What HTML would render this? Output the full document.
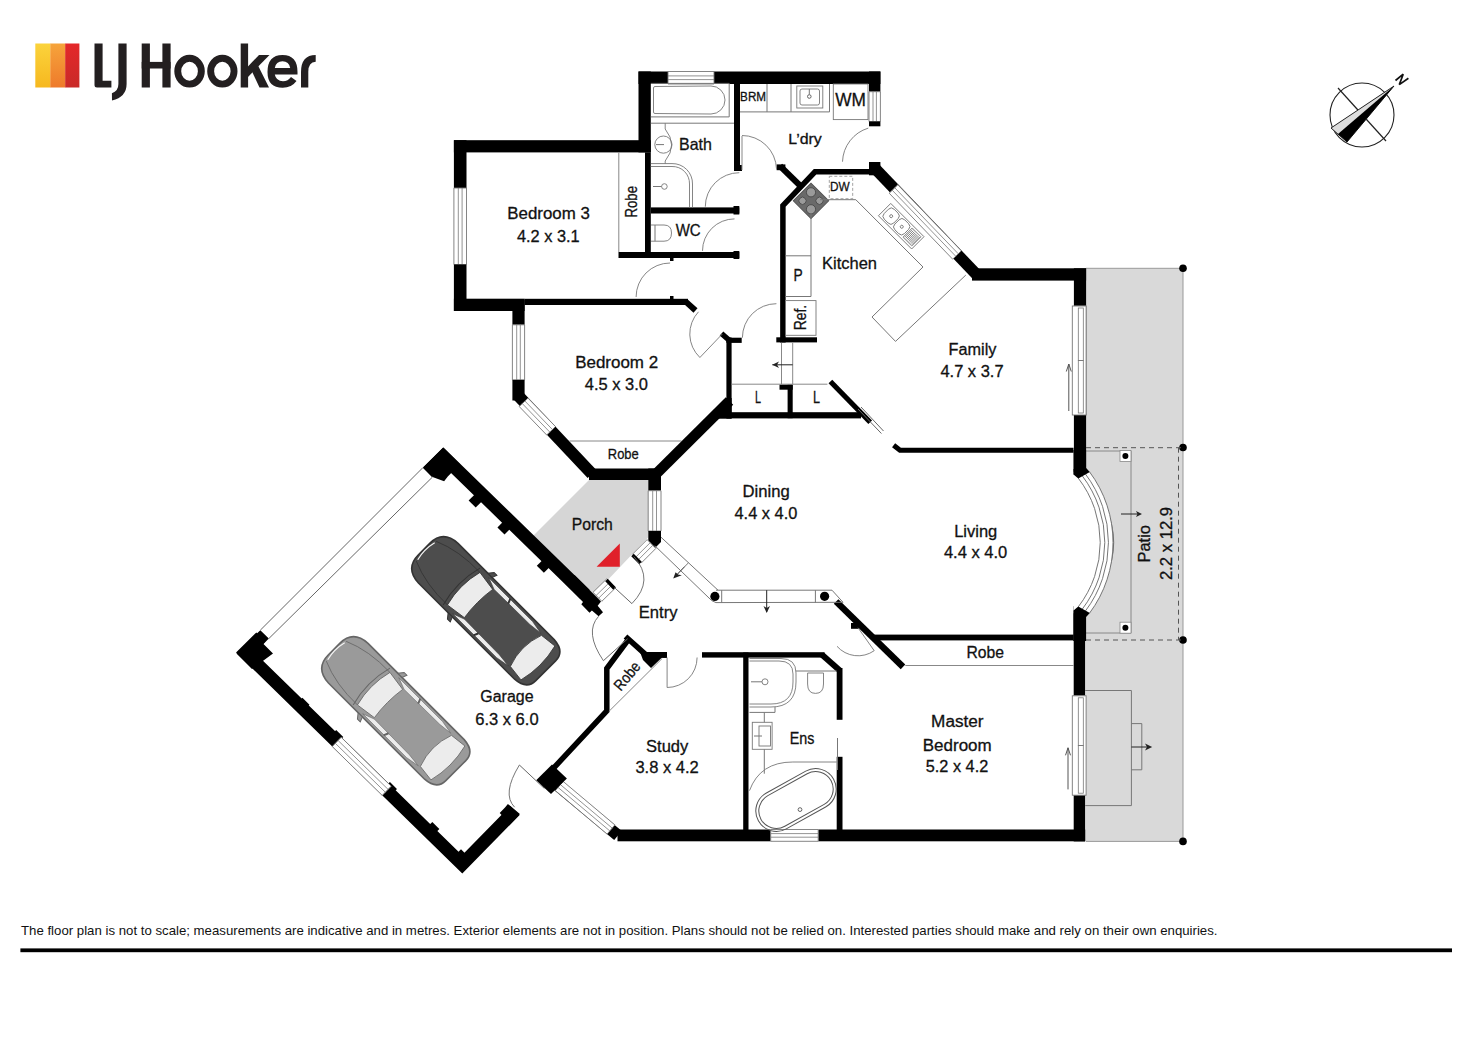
<!DOCTYPE html>
<html><head><meta charset="utf-8"><style>
html,body{margin:0;padding:0;background:#fff;}
body{width:1472px;height:1041px;overflow:hidden;position:relative;}
svg{position:absolute;left:0;top:0;}
text{font-family:"Liberation Sans",sans-serif;}
</style></head><body>
<svg width="1472" height="1041" viewBox="0 0 1472 1041">
<rect x="1086.0" y="268.3" width="97.0" height="573.1" fill="#d9d9d9"/>
<polyline points="1086.0,268.3 1183.0,268.3 1183.0,841.4 1086.0,841.4" fill="none" stroke="#999" stroke-width="1" stroke-linecap="butt" stroke-linejoin="miter" />
<polygon points="589.0,480.0 648.3,480.0 648.3,537.2 608.2,579.5 598.0,602.0 532.0,537.0" fill="#d6d6d6" />
<defs><linearGradient id="gy" x1="0" y1="0" x2="0" y2="1"><stop offset="0" stop-color="#fbd33c"/><stop offset="1" stop-color="#f6b81f"/></linearGradient><linearGradient id="go" x1="0" y1="0" x2="0" y2="1"><stop offset="0" stop-color="#f6a43b"/><stop offset="1" stop-color="#ee7a2b"/></linearGradient><linearGradient id="gr" x1="0" y1="0" x2="0" y2="1"><stop offset="0" stop-color="#e4282a"/><stop offset="1" stop-color="#c92a28"/></linearGradient></defs>
<rect x="35.3" y="43.5" width="15.2" height="44" fill="url(#gy)"/>
<rect x="50.3" y="43.5" width="15.1" height="44" fill="url(#go)"/>
<rect x="65.2" y="43.5" width="14.2" height="44" fill="url(#gr)"/>
<path d="M94.5,43.5 L102.6,43.5 L102.6,80.8 L111.4,80.8 L111.4,87.5 L97,87.5 Q94.5,87.5 94.5,85 Z" fill="#231f20"/>
<path d="M118.4,43.5 L126.6,43.5 L126.6,84 Q126.6,97 112,100.5 L111.9,93.2 Q118.4,91 118.4,84 Z" fill="#231f20"/>
<rect x="141.7" y="43.5" width="8.2" height="44" fill="#231f20"/>
<rect x="162.4" y="43.5" width="8.2" height="44" fill="#231f20"/>
<rect x="141.7" y="61.9" width="28.9" height="6.6" fill="#231f20"/>
<ellipse cx="189.55" cy="71.2" rx="11.8" ry="12.9" fill="none" stroke="#231f20" stroke-width="6.9"/>
<ellipse cx="222.35" cy="71.2" rx="11.7" ry="12.9" fill="none" stroke="#231f20" stroke-width="6.9"/>
<rect x="240.7" y="43.5" width="7.4" height="44" fill="#231f20"/>
<polygon points="247,67.5 259,54.9 269.5,54.9 247,78" fill="#231f20"/>
<polygon points="252,71.5 258,65.5 269,87.5 259.5,87.5" fill="#231f20"/>
<path d="M267.5,72 Q267.5,54.9 282.5,54.9 Q297.5,54.9 297.5,72 L297.5,74.5 L274.8,74.5 Q276,81 283,81.2 Q288,81.2 291,77 L296.5,81 Q291.5,87.8 282.7,87.8 Q267.5,87.8 267.5,72 Z M274.8,68 L290.2,68 Q289,61.3 282.5,61.3 Q276,61.3 274.8,68 Z" fill="#231f20" fill-rule="evenodd"/>
<path d="M301,87.5 L301,72 Q301,55 315.7,54.9 L315.7,61.8 Q308.3,62 308.3,72 L308.3,87.5 Z" fill="#231f20"/>
<circle cx="1362" cy="115" r="32" fill="none" stroke="#222" stroke-width="1.1"/>
<polyline points="1338.0,88.0 1386.0,141.0" fill="none" stroke="#222" stroke-width="1.2" stroke-linecap="butt" stroke-linejoin="miter" />
<polygon points="1394.0,86.0 1347.0,142.0 1331.0,128.0" fill="#ddd" stroke="#222" stroke-width="1"/>
<polygon points="1394.0,86.0 1347.0,142.0 1338.0,134.0" fill="#000" />
<polyline points="1395.5,80.5 1403.2,74.2 1399.3,84.6 1408.4,78.3" fill="none" stroke="#111" stroke-width="1.7" stroke-linecap="butt" stroke-linejoin="bevel" />
<text x="21" y="935.3" font-size="13.2" textLength="1196.5" lengthAdjust="spacingAndGlyphs" fill="#111">The floor plan is not to scale; measurements are indicative and in metres. Exterior elements are not in position. Plans should not be relied on. Interested parties should make and rely on their own enquiries.</text>
<rect x="20.4" y="948.4" width="1431.6" height="3.8" fill="#000"/>
<rect x="638.5" y="71.5" width="29.5" height="12.5" fill="#000"/>
<rect x="714.0" y="71.5" width="166.4" height="12.5" fill="#000"/>
<polygon points="668.0,84.0 714.0,84.0 714.0,71.5 668.0,71.5" fill="#fff" stroke="#777" stroke-width="0.9"/>
<polyline points="668.0,75.9 714.0,75.9" fill="none" stroke="#777" stroke-width="0.8" stroke-linecap="butt" stroke-linejoin="miter" />
<polyline points="668.0,79.6 714.0,79.6" fill="none" stroke="#777" stroke-width="0.8" stroke-linecap="butt" stroke-linejoin="miter" />
<rect x="869.0" y="71.5" width="11.4" height="20.2" fill="#000"/>
<polygon points="869.0,91.7 869.0,121.5 880.4,121.5 880.4,91.7" fill="#fff" stroke="#777" stroke-width="0.9"/>
<polyline points="876.4,91.7 876.4,121.5" fill="none" stroke="#777" stroke-width="0.8" stroke-linecap="butt" stroke-linejoin="miter" />
<polyline points="873.0,91.7 873.0,121.5" fill="none" stroke="#777" stroke-width="0.8" stroke-linecap="butt" stroke-linejoin="miter" />
<rect x="869.0" y="121.5" width="11.4" height="4.8" fill="#000"/>
<rect x="638.5" y="71.5" width="12.3" height="80.9" fill="#000"/>
<rect x="645.0" y="152.4" width="5.8" height="105.6" fill="#000"/>
<rect x="734.0" y="84.0" width="6.0" height="87.0" fill="#000"/>
<rect x="738.0" y="165.0" width="4.0" height="6.0" fill="#000"/>
<rect x="453.9" y="140.2" width="196.9" height="12.2" fill="#000"/>
<rect x="453.9" y="140.2" width="12.6" height="47.8" fill="#000"/>
<polygon points="453.9,188.0 453.9,264.5 466.5,264.5 466.5,188.0" fill="#fff" stroke="#777" stroke-width="0.9"/>
<polyline points="462.1,188.0 462.1,264.5" fill="none" stroke="#777" stroke-width="0.8" stroke-linecap="butt" stroke-linejoin="miter" />
<polyline points="458.3,188.0 458.3,264.5" fill="none" stroke="#777" stroke-width="0.8" stroke-linecap="butt" stroke-linejoin="miter" />
<rect x="453.9" y="264.5" width="12.6" height="46.5" fill="#000"/>
<rect x="453.9" y="298.7" width="70.7" height="12.3" fill="#000"/>
<rect x="524.6" y="298.8" width="163.4" height="6.2" fill="#000"/>
<polyline points="686.0,301.9 695.5,310.5" fill="none" stroke="#000" stroke-width="6" stroke-linecap="butt" stroke-linejoin="miter" />
<rect x="618.5" y="252.0" width="120.8" height="6.0" fill="#000"/>
<rect x="650.8" y="207.4" width="88.5" height="6.1" fill="#000"/>
<rect x="733.5" y="206.0" width="5.8" height="8.5" fill="#000"/>
<rect x="733.5" y="251.0" width="5.8" height="8.0" fill="#000"/>
<polyline points="618.8,152.4 618.8,252.0" fill="none" stroke="#888" stroke-width="1.0" stroke-linecap="butt" stroke-linejoin="miter" />
<rect x="670.0" y="257.0" width="3.5" height="4.0" fill="#000"/>
<rect x="670.0" y="296.0" width="3.5" height="3.0" fill="#000"/>
<rect x="776.6" y="164.4" width="8.8" height="5.8" fill="#000"/>
<polyline points="780.0,166.0 801.0,186.5" fill="none" stroke="#000" stroke-width="6" stroke-linecap="butt" stroke-linejoin="miter" />
<polyline points="782.9,342.4 782.9,205.5 815.0,171.8 870.0,171.8" fill="none" stroke="#000" stroke-width="5.5" stroke-linecap="butt" stroke-linejoin="miter" />
<rect x="776.3" y="337.3" width="40.7" height="5.1" fill="#000"/>
<rect x="869.0" y="162.0" width="11.4" height="13.3" fill="#000"/>
<polyline points="874.6,168.0 977.0,275.0" fill="none" stroke="#000" stroke-width="11.5" stroke-linecap="butt" stroke-linejoin="miter" />
<polygon points="889.2,193.2 952.7,259.2 961.3,250.8 897.8,184.8" fill="#fff" stroke="#777" stroke-width="0.9"/>
<polyline points="894.8,187.8 958.3,253.8" fill="none" stroke="#777" stroke-width="0.8" stroke-linecap="butt" stroke-linejoin="miter" />
<polyline points="892.2,190.2 955.7,256.2" fill="none" stroke="#777" stroke-width="0.8" stroke-linecap="butt" stroke-linejoin="miter" />
<rect x="972.0" y="268.3" width="114.1" height="12.3" fill="#000"/>
<rect x="1073.9" y="268.3" width="12.2" height="37.7" fill="#000"/>
<polygon points="1073.9,306.0 1073.9,415.0 1086.1,415.0 1086.1,306.0" fill="#fff" stroke="#777" stroke-width="0.9"/>
<polyline points="1081.8,306.0 1081.8,415.0" fill="none" stroke="#777" stroke-width="0.8" stroke-linecap="butt" stroke-linejoin="miter" />
<polyline points="1078.2,306.0 1078.2,415.0" fill="none" stroke="#777" stroke-width="0.8" stroke-linecap="butt" stroke-linejoin="miter" />
<rect x="1073.9" y="415.0" width="12.2" height="55.0" fill="#000"/>
<polygon points="1073.5,469.0 1085.7,469.0 1085.7,472.0 1079.0,474.5 1073.5,474.5" fill="#000" />
<rect x="512.4" y="299.4" width="12.2" height="25.4" fill="#000"/>
<polygon points="512.4,324.8 512.4,379.9 524.6,379.9 524.6,324.8" fill="#fff" stroke="#777" stroke-width="0.9"/>
<polyline points="520.3,324.8 520.3,379.9" fill="none" stroke="#777" stroke-width="0.8" stroke-linecap="butt" stroke-linejoin="miter" />
<polyline points="516.7,324.8 516.7,379.9" fill="none" stroke="#777" stroke-width="0.8" stroke-linecap="butt" stroke-linejoin="miter" />
<rect x="512.4" y="379.9" width="12.2" height="20.6" fill="#000"/>
<polyline points="518.5,396.0 592.0,474.0" fill="none" stroke="#000" stroke-width="12" stroke-linecap="butt" stroke-linejoin="miter" />
<polygon points="519.2,406.5 546.7,435.0 555.5,426.6 528.0,398.1" fill="#fff" stroke="#777" stroke-width="0.9"/>
<polyline points="524.9,401.0 552.4,429.5" fill="none" stroke="#777" stroke-width="0.8" stroke-linecap="butt" stroke-linejoin="miter" />
<polyline points="522.3,403.6 549.8,432.1" fill="none" stroke="#777" stroke-width="0.8" stroke-linecap="butt" stroke-linejoin="miter" />
<rect x="589.0" y="468.5" width="72.0" height="11.5" fill="#000"/>
<polyline points="569.5,441.0 681.6,441.0" fill="none" stroke="#888" stroke-width="1.0" stroke-linecap="butt" stroke-linejoin="miter" />
<polyline points="655.0,475.0 729.5,401.0" fill="none" stroke="#000" stroke-width="10.5" stroke-linecap="butt" stroke-linejoin="miter" />
<rect x="726.4" y="337.5" width="5.2" height="81.1" fill="#000"/>
<rect x="726.4" y="337.7" width="15.3" height="5.2" fill="#000"/>
<polyline points="721.5,333.5 730.0,341.0" fill="none" stroke="#000" stroke-width="5.5" stroke-linecap="butt" stroke-linejoin="miter" />
<rect x="712.0" y="412.2" width="149.0" height="6.2" fill="#000"/>
<rect x="787.6" y="384.6" width="5.1" height="33.6" fill="#000"/>
<rect x="779.5" y="384.6" width="13.2" height="5.1" fill="#000"/>
<polyline points="731.6,384.2 827.4,384.2" fill="none" stroke="#888" stroke-width="1.0" stroke-linecap="butt" stroke-linejoin="miter" />
<polyline points="781.5,342.8 781.5,384.6" fill="none" stroke="#888" stroke-width="1.0" stroke-linecap="butt" stroke-linejoin="miter" />
<polyline points="792.7,342.8 792.7,384.6" fill="none" stroke="#888" stroke-width="1.0" stroke-linecap="butt" stroke-linejoin="miter" />
<polyline points="772.3,364.8 792.7,364.8" fill="none" stroke="#222" stroke-width="1.0" stroke-linecap="butt" stroke-linejoin="miter" />
<polygon points="772.3,364.8 779.0,361.5 777.0,364.8 779.0,368.0" fill="#222" />
<polyline points="830.4,381.5 870.2,422.3" fill="none" stroke="#000" stroke-width="5.2" stroke-linecap="butt" stroke-linejoin="miter" />
<polyline points="858.0,409.0 881.4,433.5" fill="none" stroke="#666" stroke-width="1.0" stroke-linecap="butt" stroke-linejoin="miter" />
<polyline points="861.0,407.0 883.5,431.0" fill="none" stroke="#666" stroke-width="1.0" stroke-linecap="butt" stroke-linejoin="miter" />
<polyline points="893.6,445.2 900.0,450.3 1073.5,450.3" fill="none" stroke="#000" stroke-width="5" stroke-linecap="butt" stroke-linejoin="miter" />
<polygon points="1073.5,606.0 1079.0,609.0 1085.7,612.0 1085.7,641.0 1073.5,641.0" fill="#000" />
<rect x="1073.7" y="640.0" width="11.5" height="55.8" fill="#000"/>
<polygon points="1073.8,695.8 1073.8,795.2 1085.2,795.2 1085.2,695.8" fill="#fff" stroke="#777" stroke-width="0.9"/>
<polyline points="1081.2,695.8 1081.2,795.2" fill="none" stroke="#777" stroke-width="0.8" stroke-linecap="butt" stroke-linejoin="miter" />
<polyline points="1077.8,695.8 1077.8,795.2" fill="none" stroke="#777" stroke-width="0.8" stroke-linecap="butt" stroke-linejoin="miter" />
<rect x="1073.7" y="795.2" width="11.5" height="46.2" fill="#000"/>
<path d="M1079,474 Q1140,542 1079,611" fill="none" stroke="#fff" stroke-width="0"/>
<path d="M1079.0,474.0 Q1140.0,542.5 1079.0,611.0" fill="none" stroke="#666" stroke-width="0.9"/>
<path d="M1080.2,473.4 Q1143.0,542.5 1080.2,611.6" fill="none" stroke="#666" stroke-width="0.9"/>
<path d="M1081.4,472.8 Q1146.0,542.5 1081.4,612.2" fill="none" stroke="#666" stroke-width="0.9"/>
<rect x="873.9" y="634.6" width="199.8" height="5.8" fill="#000"/>
<polyline points="836.1,601.5 903.0,666.9" fill="none" stroke="#000" stroke-width="6.5" stroke-linecap="butt" stroke-linejoin="miter" />
<polyline points="905.3,665.5 1073.7,665.5" fill="none" stroke="#888" stroke-width="1.0" stroke-linecap="butt" stroke-linejoin="miter" />
<rect x="617.5" y="829.5" width="153.2" height="11.8" fill="#000"/>
<rect x="818.2" y="829.5" width="267.0" height="11.8" fill="#000"/>
<polygon points="770.7,841.3 818.2,841.3 818.2,829.5 770.7,829.5" fill="#fff" stroke="#777" stroke-width="0.9"/>
<polyline points="770.7,833.6 818.2,833.6" fill="none" stroke="#777" stroke-width="0.8" stroke-linecap="butt" stroke-linejoin="miter" />
<polyline points="770.7,837.2 818.2,837.2" fill="none" stroke="#777" stroke-width="0.8" stroke-linecap="butt" stroke-linejoin="miter" />
<rect x="836.7" y="668.0" width="5.8" height="51.8" fill="#000"/>
<rect x="836.7" y="756.8" width="5.8" height="73.2" fill="#000"/>
<rect x="743.2" y="652.5" width="5.3" height="177.5" fill="#000"/>
<rect x="645.0" y="652.2" width="22.0" height="5.4" fill="#000"/>
<rect x="702.0" y="652.2" width="122.5" height="5.4" fill="#000"/>
<polyline points="822.0,654.8 839.8,670.5" fill="none" stroke="#000" stroke-width="6" stroke-linecap="butt" stroke-linejoin="miter" />
<polyline points="837.5,738.0 837.5,770.0" fill="none" stroke="#777" stroke-width="1.0" stroke-linecap="butt" stroke-linejoin="miter" />
<rect x="851.0" y="623.0" width="8.0" height="5.8" fill="#000"/>
<polyline points="629.5,638.0 606.8,668.5 606.8,711.0 549.0,773.0" fill="none" stroke="#000" stroke-width="5.5" stroke-linecap="butt" stroke-linejoin="miter" />
<polyline points="625.5,636.5 646.0,654.9 667.0,654.9" fill="none" stroke="#000" stroke-width="5.5" stroke-linecap="butt" stroke-linejoin="miter" />
<polygon points="640.0,652.0 667.0,652.0 667.0,657.6 662.0,657.6 651.0,668.0 643.0,660.0" fill="#000" />
<polyline points="608.8,711.5 662.2,658.4" fill="none" stroke="#888" stroke-width="1.0" stroke-linecap="butt" stroke-linejoin="miter" />
<polyline points="547.0,776.5 618.0,835.5" fill="none" stroke="#000" stroke-width="12" stroke-linecap="butt" stroke-linejoin="miter" />
<polygon points="555.3,790.6 607.1,834.1 614.9,824.9 563.1,781.4" fill="#fff" stroke="#777" stroke-width="0.9"/>
<polyline points="560.4,784.6 612.2,828.1" fill="none" stroke="#777" stroke-width="0.8" stroke-linecap="butt" stroke-linejoin="miter" />
<polyline points="558.0,787.4 609.8,830.9" fill="none" stroke="#777" stroke-width="0.8" stroke-linecap="butt" stroke-linejoin="miter" />
<polygon points="536.2,780.3 552.0,764.5 566.9,778.4 551.0,794.0" fill="#000" />
<polyline points="427.4,472.4 443.5,456.5 585.0,594.5" fill="none" stroke="#000" stroke-width="13" stroke-linecap="butt" stroke-linejoin="miter" />
<polyline points="260.9,637.0 245.3,652.5 462.2,864.3 515.0,810.5" fill="none" stroke="#000" stroke-width="13" stroke-linecap="butt" stroke-linejoin="miter" />
<polygon points="423.0,467.5 443.1,447.4 460.0,464.3 451.0,473.3 448.0,476.3 444.1,481.2 432.5,477.0" fill="#000" />
<polygon points="260.3,630.2 236.5,653.5 252.0,669.0 273.0,653.4 263.5,643.9 268.8,638.6" fill="#000" />
<polyline points="423.0,467.5 260.3,630.2" fill="none" stroke="#666" stroke-width="1.0" stroke-linecap="butt" stroke-linejoin="miter" />
<polyline points="432.5,477.0 268.8,638.6" fill="none" stroke="#666" stroke-width="1.0" stroke-linecap="butt" stroke-linejoin="miter" />
<rect x="470.7" y="495.5" width="10" height="10" fill="#000" transform="rotate(45 475.7 500.5)"/>
<rect x="499.5" y="522.4" width="10" height="10" fill="#000" transform="rotate(45 504.5 527.4)"/>
<rect x="538.9" y="560.8" width="10" height="10" fill="#000" transform="rotate(45 543.9 565.8)"/>
<rect x="297.4" y="699.7" width="10" height="10" fill="#000" transform="rotate(45 302.4 704.7)"/>
<rect x="331.2" y="732.0" width="10" height="10" fill="#000" transform="rotate(45 336.2 737.0)"/>
<rect x="384.9" y="784.0" width="10" height="10" fill="#000" transform="rotate(45 389.9 789.0)"/>
<rect x="427.3" y="824.0" width="10" height="10" fill="#000" transform="rotate(45 432.3 829.0)"/>
<rect x="456.0" y="851.3" width="10" height="10" fill="#000" transform="rotate(45 461.0 856.3)"/>
<polygon points="332.2,746.5 382.2,795.4 391.2,786.2 341.2,737.3" fill="#fff" stroke="#777" stroke-width="0.9"/>
<polyline points="338.1,740.5 388.1,789.4" fill="none" stroke="#777" stroke-width="0.8" stroke-linecap="butt" stroke-linejoin="miter" />
<polyline points="335.3,743.3 385.3,792.2" fill="none" stroke="#777" stroke-width="0.8" stroke-linecap="butt" stroke-linejoin="miter" />
<polygon points="574.6,575.0 601.0,601.4 597.7,605.7 603.0,612.2 598.6,616.3 591.9,610.5 589.5,612.7 581.3,604.3 583.0,602.0 565.0,583.6" fill="#000" />
<polygon points="499.7,813.0 505.0,807.5 507.9,803.9 519.9,814.0 510.0,824.0" fill="#000" />
<g transform="translate(484.9,609.9) rotate(45)"><path d="M-66,-28 L70,-28 Q86,-27 86,-14 L86,14 Q86,27 70,28 L-66,28 Q-86,27 -86,8 L-86,-8 Q-86,-27 -66,-28 Z" fill="#4d4d4d" stroke="#333" stroke-width="1.6"/><path d="M-24,-28 L-20,-33 L-16,-33 L-18,-28 Z" fill="#4d4d4d" stroke="#333" stroke-width="1"/><path d="M-24,28 L-20,33 L-16,33 L-18,28 Z" fill="#4d4d4d" stroke="#333" stroke-width="1"/><path d="M-30,-23 Q-36,0 -30,23 L-9,20 Q-12,0 -9,-20 Z" fill="#ececec" stroke="#333" stroke-width="0.8"/><path d="M58,-22 Q50,0 58,22 L75,24 Q81,0 75,-24 Z" fill="#ececec" stroke="#333" stroke-width="0.8"/><path d="M-20,-25.5 L-8,-21 L42,-21.5 L56,-23 L42,-25.5 Z" fill="#ececec" stroke="#333" stroke-width="0.6"/><path d="M-20,25.5 L-8,21 L42,21.5 L56,23 L42,25.5 Z" fill="#ececec" stroke="#333" stroke-width="0.6"/><path d="M10,-26 L12,-21 M10,26 L12,21" stroke="#333" stroke-width="2"/><path d="M-83,-12 Q-86,0 -83,12" fill="none" stroke="#f4f4f4" stroke-width="1.2"/><path d="M-83,-14 Q-60,-24 -30,-23 M-83,14 Q-60,24 -30,23" fill="none" stroke="#333" stroke-width="0.8"/><path d="M-33,-26 Q-40,0 -33,26" fill="none" stroke="#333" stroke-width="1"/></g>
<g transform="translate(394.9,709.9) rotate(45)"><path d="M-66,-28 L70,-28 Q86,-27 86,-14 L86,14 Q86,27 70,28 L-66,28 Q-86,27 -86,8 L-86,-8 Q-86,-27 -66,-28 Z" fill="#9a9a9a" stroke="#666" stroke-width="1.6"/><path d="M-24,-28 L-20,-33 L-16,-33 L-18,-28 Z" fill="#9a9a9a" stroke="#666" stroke-width="1"/><path d="M-24,28 L-20,33 L-16,33 L-18,28 Z" fill="#9a9a9a" stroke="#666" stroke-width="1"/><path d="M-30,-23 Q-36,0 -30,23 L-9,20 Q-12,0 -9,-20 Z" fill="#ececec" stroke="#666" stroke-width="0.8"/><path d="M58,-22 Q50,0 58,22 L75,24 Q81,0 75,-24 Z" fill="#ececec" stroke="#666" stroke-width="0.8"/><path d="M-20,-25.5 L-8,-21 L42,-21.5 L56,-23 L42,-25.5 Z" fill="#ececec" stroke="#666" stroke-width="0.6"/><path d="M-20,25.5 L-8,21 L42,21.5 L56,23 L42,25.5 Z" fill="#ececec" stroke="#666" stroke-width="0.6"/><path d="M10,-26 L12,-21 M10,26 L12,21" stroke="#666" stroke-width="2"/><path d="M-83,-12 Q-86,0 -83,12" fill="none" stroke="#f4f4f4" stroke-width="1.2"/><path d="M-83,-14 Q-60,-24 -30,-23 M-83,14 Q-60,24 -30,23" fill="none" stroke="#666" stroke-width="0.8"/><path d="M-33,-26 Q-40,0 -33,26" fill="none" stroke="#666" stroke-width="1"/></g>
<rect x="648.3" y="468.5" width="12.7" height="22.2" fill="#000"/>
<polygon points="648.2,490.7 648.2,531.0 661.0,531.0 661.0,490.7" fill="#fff" stroke="#777" stroke-width="0.9"/>
<polyline points="656.5,490.7 656.5,531.0" fill="none" stroke="#777" stroke-width="0.8" stroke-linecap="butt" stroke-linejoin="miter" />
<polyline points="652.7,490.7 652.7,531.0" fill="none" stroke="#777" stroke-width="0.8" stroke-linecap="butt" stroke-linejoin="miter" />
<polygon points="648.3,531.0 661.0,531.0 661.0,542.0 655.0,548.0 648.3,542.0" fill="#000" />
<polygon points="601.8,601.3 615.6,587.8 606.8,578.8 593.0,592.3" fill="#fff" stroke="#777" stroke-width="0.9"/>
<polyline points="596.1,595.5 609.9,582.0" fill="none" stroke="#777" stroke-width="0.8" stroke-linecap="butt" stroke-linejoin="miter" />
<polyline points="598.7,598.1 612.5,584.6" fill="none" stroke="#777" stroke-width="0.8" stroke-linecap="butt" stroke-linejoin="miter" />
<polygon points="641.4,562.9 655.9,548.4 647.1,539.6 632.6,554.1" fill="#fff" stroke="#777" stroke-width="0.9"/>
<polyline points="635.7,557.2 650.2,542.7" fill="none" stroke="#777" stroke-width="0.8" stroke-linecap="butt" stroke-linejoin="miter" />
<polyline points="638.3,559.8 652.8,545.3" fill="none" stroke="#777" stroke-width="0.8" stroke-linecap="butt" stroke-linejoin="miter" />
<polyline points="606.5,580.0 614.5,588.5" fill="none" stroke="#000" stroke-width="3.5" stroke-linecap="butt" stroke-linejoin="miter" />
<polyline points="632.5,555.0 640.5,563.0" fill="none" stroke="#000" stroke-width="3.5" stroke-linecap="butt" stroke-linejoin="miter" />
<polyline points="614.6,587.7 631.9,603.6" fill="none" stroke="#666" stroke-width="1.0" stroke-linecap="butt" stroke-linejoin="miter" />
<path d="M631.9,603.6 Q655,580 633.8,556.5" fill="none" stroke="#666" stroke-width="0.9"/>
<polyline points="627.6,638.8 603.4,660.7" fill="none" stroke="#666" stroke-width="1.0" stroke-linecap="butt" stroke-linejoin="miter" />
<path d="M603.4,660.7 Q584,632.1 598.6,616.3" fill="none" stroke="#666" stroke-width="0.9"/>
<polygon points="596.6,566.8 619.8,543.5 619.8,566.8" fill="#e0202a" />
<polyline points="654.7,545.6 711.7,600.6 716.0,602.6" fill="none" stroke="#777" stroke-width="1.0" stroke-linecap="butt" stroke-linejoin="miter" />
<polyline points="661.0,537.2 718.0,590.2" fill="none" stroke="#777" stroke-width="1.0" stroke-linecap="butt" stroke-linejoin="miter" />
<polyline points="716.0,590.2 832.0,590.2 843.0,602.3 716.0,602.6" fill="none" stroke="#777" stroke-width="1.0" stroke-linecap="butt" stroke-linejoin="miter" />
<polyline points="815.4,590.2 815.4,602.6" fill="none" stroke="#777" stroke-width="1.0" stroke-linecap="butt" stroke-linejoin="miter" />
<polyline points="766.7,590.2 766.7,612.0" fill="none" stroke="#222" stroke-width="1.0" stroke-linecap="butt" stroke-linejoin="miter" />
<polyline points="684.5,566.7 675.5,576.2" fill="none" stroke="#222" stroke-width="1.0" stroke-linecap="butt" stroke-linejoin="miter" />
<polygon points="673.2,578.6 675.6,572.2 678.0,574.5 681.8,575.3" fill="#222" />
<polyline points="688.5,562.8 680.4,570.9" fill="none" stroke="#777" stroke-width="1.0" stroke-linecap="butt" stroke-linejoin="miter" />
<polyline points="721.7,590.2 721.7,602.6" fill="none" stroke="#777" stroke-width="1.0" stroke-linecap="butt" stroke-linejoin="miter" />
<polygon points="766.7,613.0 763.5,606.0 766.7,608.0 770.0,606.0" fill="#222" />
<circle cx="714.9" cy="596.4" r="4.6" fill="#000"/>
<circle cx="824.6" cy="596.3" r="4.6" fill="#000"/>
<circle cx="1183" cy="268.3" r="3.8" fill="#000"/>
<circle cx="1183" cy="447.5" r="3.8" fill="#000"/>
<circle cx="1183" cy="640" r="3.8" fill="#000"/>
<circle cx="1183" cy="841.4" r="3.8" fill="#000"/>
<polyline points="1086.0,447.7 1183.0,447.7" fill="none" stroke="#555" stroke-width="1.0" stroke-linecap="butt" stroke-linejoin="miter" stroke-dasharray="5,4"/>
<polyline points="1086.0,640.0 1183.0,640.0" fill="none" stroke="#555" stroke-width="1.0" stroke-linecap="butt" stroke-linejoin="miter" stroke-dasharray="5,4"/>
<polyline points="1178.5,447.7 1178.5,640.0" fill="none" stroke="#555" stroke-width="1.0" stroke-linecap="butt" stroke-linejoin="miter" stroke-dasharray="5,4"/>
<polyline points="1086.0,451.0 1131.0,451.0 1131.0,633.0 1086.0,633.0" fill="none" stroke="#888" stroke-width="1.0" stroke-linecap="butt" stroke-linejoin="miter" />
<rect x="1120" y="450.5" width="11" height="11" fill="#fff" stroke="#888" stroke-width="0.8"/>
<circle cx="1125.4" cy="456" r="3" fill="#000"/>
<rect x="1120" y="622.2" width="11" height="11" fill="#fff" stroke="#888" stroke-width="0.8"/>
<circle cx="1125.4" cy="627.7" r="3" fill="#000"/>
<polyline points="1121.0,514.0 1140.0,514.0" fill="none" stroke="#222" stroke-width="1.0" stroke-linecap="butt" stroke-linejoin="miter" />
<polygon points="1142.0,514.0 1136.0,511.0 1137.5,514.0 1136.0,517.0" fill="#222" />
<polyline points="1085.2,690.5 1131.4,690.5 1131.4,805.6 1085.2,805.6" fill="none" stroke="#777" stroke-width="1.0" stroke-linecap="butt" stroke-linejoin="miter" />
<polyline points="1131.4,723.6 1141.8,723.6 1141.8,769.8 1131.4,769.8" fill="none" stroke="#777" stroke-width="1.0" stroke-linecap="butt" stroke-linejoin="miter" />
<polyline points="1131.4,747.0 1150.0,747.0" fill="none" stroke="#222" stroke-width="1.0" stroke-linecap="butt" stroke-linejoin="miter" />
<polygon points="1152.2,747.0 1145.0,743.5 1147.0,747.0 1145.0,750.5" fill="#222" />
<polyline points="1068.8,411.0 1068.8,364.0" fill="none" stroke="#555" stroke-width="1.0" stroke-linecap="butt" stroke-linejoin="miter" />
<polyline points="1066.3,371.5 1068.8,364.0 1071.3,371.5" fill="none" stroke="#555" stroke-width="1.0" stroke-linecap="butt" stroke-linejoin="miter" />
<polyline points="1068.0,789.4 1068.0,747.8" fill="none" stroke="#555" stroke-width="1.0" stroke-linecap="butt" stroke-linejoin="miter" />
<polyline points="1065.5,755.3 1068.0,747.8 1070.5,755.3" fill="none" stroke="#555" stroke-width="1.0" stroke-linecap="butt" stroke-linejoin="miter" />
<rect x="1072.3" y="306.0" width="13.8" height="109.0" fill="#fff" stroke="#777" stroke-width="0.9"/>
<rect x="1078.3" y="308.0" width="5" height="52.5" fill="none" stroke="#777" stroke-width="0.8"/>
<rect x="1078.3" y="360.5" width="5" height="52.5" fill="none" stroke="#777" stroke-width="0.8"/>
<rect x="1072.3" y="695.8" width="13.8" height="99.4" fill="#fff" stroke="#777" stroke-width="0.9"/>
<rect x="1078.3" y="697.8" width="5" height="47.7" fill="none" stroke="#777" stroke-width="0.8"/>
<rect x="1078.3" y="745.5" width="5" height="47.7" fill="none" stroke="#777" stroke-width="0.8"/>
<text x="679.0" y="150.1" font-size="16.72" textLength="32.9" lengthAdjust="spacingAndGlyphs" fill="#111" stroke="#111" stroke-width="0.3" >Bath</text>
<text x="740.1" y="100.5" font-size="12.50" textLength="26.0" lengthAdjust="spacingAndGlyphs" fill="#111" stroke="#111" stroke-width="0.3" >BRM</text>
<text x="835.3" y="106.3" font-size="18.17" textLength="30.7" lengthAdjust="spacingAndGlyphs" fill="#111" stroke="#111" stroke-width="0.3" >WM</text>
<text x="788.2" y="143.8" font-size="15.26" textLength="33.6" lengthAdjust="spacingAndGlyphs" fill="#111" stroke="#111" stroke-width="0.3" >L’dry</text>
<text x="675.7" y="236.0" font-size="16.72" textLength="25.0" lengthAdjust="spacingAndGlyphs" fill="#111" stroke="#111" stroke-width="0.3" >WC</text>
<text x="507.3" y="218.9" font-size="16.28" textLength="82.5" lengthAdjust="spacingAndGlyphs" fill="#111" stroke="#111" stroke-width="0.3" >Bedroom 3</text>
<text x="517.0" y="242.2" font-size="16.42" textLength="62.6" lengthAdjust="spacingAndGlyphs" fill="#111" stroke="#111" stroke-width="0.3" >4.2 x 3.1</text>
<text x="830.0" y="190.8" font-size="13.37" textLength="19.7" lengthAdjust="spacingAndGlyphs" fill="#111" stroke="#111" stroke-width="0.3" >DW</text>
<text x="822.0" y="269.2" font-size="16.72" textLength="55.0" lengthAdjust="spacingAndGlyphs" fill="#111" stroke="#111" stroke-width="0.3" >Kitchen</text>
<text x="793.6" y="281.2" font-size="15.99" textLength="9.2" lengthAdjust="spacingAndGlyphs" fill="#111" stroke="#111" stroke-width="0.3" >P</text>
<text x="575.2" y="367.9" font-size="16.28" textLength="82.9" lengthAdjust="spacingAndGlyphs" fill="#111" stroke="#111" stroke-width="0.3" >Bedroom 2</text>
<text x="584.8" y="390.2" font-size="16.42" textLength="63.2" lengthAdjust="spacingAndGlyphs" fill="#111" stroke="#111" stroke-width="0.3" >4.5 x 3.0</text>
<text x="607.8" y="458.5" font-size="15.41" textLength="31.0" lengthAdjust="spacingAndGlyphs" fill="#111" stroke="#111" stroke-width="0.3" >Robe</text>
<text x="755.0" y="403.2" font-size="16.42" textLength="6.0" lengthAdjust="spacingAndGlyphs" fill="#111" stroke="#111" stroke-width="0.3" >L</text>
<text x="813.0" y="403.2" font-size="16.42" textLength="7.0" lengthAdjust="spacingAndGlyphs" fill="#111" stroke="#111" stroke-width="0.3" >L</text>
<text x="948.5" y="355.2" font-size="16.42" textLength="47.9" lengthAdjust="spacingAndGlyphs" fill="#111" stroke="#111" stroke-width="0.3" >Family</text>
<text x="940.4" y="376.6" font-size="16.42" textLength="63.2" lengthAdjust="spacingAndGlyphs" fill="#111" stroke="#111" stroke-width="0.3" >4.7 x 3.7</text>
<text x="742.6" y="497.2" font-size="16.42" textLength="47.2" lengthAdjust="spacingAndGlyphs" fill="#111" stroke="#111" stroke-width="0.3" >Dining</text>
<text x="734.5" y="519.1" font-size="16.42" textLength="62.8" lengthAdjust="spacingAndGlyphs" fill="#111" stroke="#111" stroke-width="0.3" >4.4 x 4.0</text>
<text x="954.2" y="537.4" font-size="16.42" textLength="43.1" lengthAdjust="spacingAndGlyphs" fill="#111" stroke="#111" stroke-width="0.3" >Living</text>
<text x="943.9" y="558.4" font-size="16.42" textLength="63.4" lengthAdjust="spacingAndGlyphs" fill="#111" stroke="#111" stroke-width="0.3" >4.4 x 4.0</text>
<text x="571.8" y="530.1" font-size="16.42" textLength="41.0" lengthAdjust="spacingAndGlyphs" fill="#111" stroke="#111" stroke-width="0.3" >Porch</text>
<text x="638.8" y="617.7" font-size="16.42" textLength="38.7" lengthAdjust="spacingAndGlyphs" fill="#111" stroke="#111" stroke-width="0.3" >Entry</text>
<text x="966.4" y="657.8" font-size="16.42" textLength="37.6" lengthAdjust="spacingAndGlyphs" fill="#111" stroke="#111" stroke-width="0.3" >Robe</text>
<text x="931.1" y="727.4" font-size="16.42" textLength="52.5" lengthAdjust="spacingAndGlyphs" fill="#111" stroke="#111" stroke-width="0.3" >Master</text>
<text x="922.8" y="750.5" font-size="16.42" textLength="68.9" lengthAdjust="spacingAndGlyphs" fill="#111" stroke="#111" stroke-width="0.3" >Bedroom</text>
<text x="925.8" y="772.4" font-size="16.42" textLength="62.4" lengthAdjust="spacingAndGlyphs" fill="#111" stroke="#111" stroke-width="0.3" >5.2 x 4.2</text>
<text x="646.0" y="751.8" font-size="16.42" textLength="42.3" lengthAdjust="spacingAndGlyphs" fill="#111" stroke="#111" stroke-width="0.3" >Study</text>
<text x="635.4" y="772.9" font-size="16.42" textLength="63.4" lengthAdjust="spacingAndGlyphs" fill="#111" stroke="#111" stroke-width="0.3" >3.8 x 4.2</text>
<text x="789.7" y="744.4" font-size="16.42" textLength="24.7" lengthAdjust="spacingAndGlyphs" fill="#111" stroke="#111" stroke-width="0.3" >Ens</text>
<text x="480.3" y="702.0" font-size="16.42" textLength="53.3" lengthAdjust="spacingAndGlyphs" fill="#111" stroke="#111" stroke-width="0.3" >Garage</text>
<text x="475.2" y="724.5" font-size="16.42" textLength="63.4" lengthAdjust="spacingAndGlyphs" fill="#111" stroke="#111" stroke-width="0.3" >6.3 x 6.0</text>
<g transform="translate(631.3,201.8) rotate(-90)"><text x="-15.8" y="5.4" font-size="15.70" textLength="31.6" lengthAdjust="spacingAndGlyphs" fill="#111" stroke="#111" stroke-width="0.3">Robe</text></g>
<g transform="translate(800.3,317.5) rotate(-90)"><text x="-12.8" y="5.7" font-size="16.42" textLength="25.5" lengthAdjust="spacingAndGlyphs" fill="#111" stroke="#111" stroke-width="0.3">Ref.</text></g>
<g transform="translate(1144.2,543.7) rotate(-90)"><text x="-18.8" y="5.7" font-size="16.42" textLength="37.5" lengthAdjust="spacingAndGlyphs" fill="#111" stroke="#111" stroke-width="0.3">Patio</text></g>
<g transform="translate(1166.4,543.5) rotate(-90)"><text x="-36.5" y="5.7" font-size="16.42" textLength="73.0" lengthAdjust="spacingAndGlyphs" fill="#111" stroke="#111" stroke-width="0.3">2.2 x 12.9</text></g>
<g transform="translate(627.0,676.0) rotate(-50)"><text x="-16.0" y="5.3" font-size="15.41" textLength="32.0" lengthAdjust="spacingAndGlyphs" fill="#111" stroke="#111" stroke-width="0.3">Robe</text></g>
<polygon points="712.0,412.2 726.4,398.0 731.6,398.0 731.6,418.4 712.0,418.4" fill="#000" />
<path d="M1073.5,471.8 L1089.5,471.8 A118.0,118.0 0 0 1 1089.5,613.2 L1073.5,613.2 Z" fill="#fff"/>
<path d="M1089.5,471.8 A118.0,118.0 0 0 1 1089.5,613.2" fill="none" stroke="#666" stroke-width="0.9"/>
<path d="M1085.5,474.1 A113.4,113.4 0 0 1 1085.5,610.9" fill="none" stroke="#666" stroke-width="0.9"/>
<path d="M1082.3,475.9 A109.8,109.8 0 0 1 1082.3,609.1" fill="none" stroke="#666" stroke-width="0.9"/>
<path d="M1078.3,478.2 A105.2,105.2 0 0 1 1078.3,606.8" fill="none" stroke="#666" stroke-width="0.9"/>
<polygon points="1073.5,450.0 1086.1,450.0 1086.1,468.0 1089.8,471.9 1078.3,478.5 1073.5,474.5" fill="#000" />
<polygon points="1073.5,641.0 1086.1,641.0 1086.1,617.0 1089.8,613.1 1078.3,606.5 1073.5,610.5" fill="#000" />
<path d="M670.1,263.0 A34.0,34.0 0 0 0 636.1,297.0" fill="none" stroke="#777" stroke-width="0.9"/>
<path d="M734.5,218.9 A32.0,32.0 0 0 0 702.5,250.9" fill="none" stroke="#777" stroke-width="0.9"/>
<path d="M739.3,172.7 A34.0,34.0 0 0 0 705.3,206.7" fill="none" stroke="#777" stroke-width="0.9"/>
<polyline points="722.3,334.0 699.9,357.5" fill="none" stroke="#777" stroke-width="0.9" stroke-linecap="butt" stroke-linejoin="miter" />
<path d="M699.9,357.5 A32.5,32.5 0 0 1 698.5,311.8" fill="none" stroke="#777" stroke-width="0.9"/>
<path d="M776.4,303.7 A34.0,34.0 0 0 0 742.4,337.7" fill="none" stroke="#777" stroke-width="0.9"/>
<path d="M742.0,135.5 A34.5,34.5 0 0 1 776.5,168.8" fill="none" stroke="#777" stroke-width="0.9"/>
<polyline points="742.0,136.0 742.0,170.0" fill="none" stroke="#888" stroke-width="1.0" stroke-linecap="butt" stroke-linejoin="miter" />
<path d="M868.3,128.1 A36.5,36.5 0 0 0 842.5,161.7" fill="none" stroke="#777" stroke-width="0.9"/>
<polyline points="667.1,657.5 667.1,687.5" fill="none" stroke="#777" stroke-width="0.9" stroke-linecap="butt" stroke-linejoin="miter" />
<path d="M667.1,687.5 A30.0,30.0 0 0 0 697.1,657.5" fill="none" stroke="#777" stroke-width="0.9"/>
<polyline points="858.0,627.7 874.2,650.7" fill="none" stroke="#777" stroke-width="0.9" stroke-linecap="butt" stroke-linejoin="miter" />
<path d="M874.2,650.7 A28.1,28.1 0 0 1 837.0,646.3" fill="none" stroke="#777" stroke-width="0.9"/>
<polyline points="519.4,765.0 544.4,788.5" fill="none" stroke="#666" stroke-width="1.0" stroke-linecap="butt" stroke-linejoin="miter" />
<path d="M519.4,765 Q501.6,793.9 514.6,807.2" fill="none" stroke="#666" stroke-width="0.9"/>
<polyline points="650.8,83.4 729.2,83.4 729.2,116.9 650.8,116.9" fill="none" stroke="#777" stroke-width="1.0" stroke-linecap="butt" stroke-linejoin="miter" />
<path d="M655,86.5 L711,86 A14,14 0 0 1 711,114 L655,113.5 Q653.5,113.5 653.5,112 L653.5,88 Q653.5,86.5 655,86.5 Z" fill="none" stroke="#777" stroke-width="0.9"/>
<polyline points="650.8,123.2 734.0,123.2" fill="none" stroke="#777" stroke-width="1.0" stroke-linecap="butt" stroke-linejoin="miter" />
<path d="M665.2,123.2 L665.2,129 Q678,145 665.2,161 L665.2,163.6" fill="none" stroke="#777" stroke-width="0.9"/>
<circle cx="663.4" cy="144.6" r="8.6" fill="none" stroke="#777" stroke-width="0.9"/>
<polyline points="656.0,144.6 664.0,144.6" fill="none" stroke="#777" stroke-width="1.0" stroke-linecap="butt" stroke-linejoin="miter" />
<path d="M650.8,163.6 L672,163.6 A20,20 0 0 1 692.5,184 L692.5,207.4" fill="none" stroke="#777" stroke-width="0.9"/>
<path d="M650.8,166.5 L672,166.5 A17,17 0 0 1 689.5,184 L689.5,207.4" fill="none" stroke="#777" stroke-width="0.9"/>
<circle cx="664.4" cy="186.5" r="2.8" fill="none" stroke="#777" stroke-width="0.9"/>
<polyline points="653.0,186.5 661.5,186.5" fill="none" stroke="#777" stroke-width="1.0" stroke-linecap="butt" stroke-linejoin="miter" />
<path d="M651,225 L664,225 Q671.5,225 671.5,233 Q671.5,241.2 664,241.2 L651,241.2" fill="none" stroke="#777" stroke-width="0.9"/>
<polyline points="655.0,225.0 655.0,241.2" fill="none" stroke="#777" stroke-width="1.0" stroke-linecap="butt" stroke-linejoin="miter" />
<polyline points="740.0,111.9 829.5,111.9" fill="none" stroke="#777" stroke-width="1.0" stroke-linecap="butt" stroke-linejoin="miter" />
<polyline points="767.0,84.0 767.0,111.9" fill="none" stroke="#777" stroke-width="1.0" stroke-linecap="butt" stroke-linejoin="miter" />
<polyline points="791.0,84.0 791.0,111.9" fill="none" stroke="#777" stroke-width="1.0" stroke-linecap="butt" stroke-linejoin="miter" />
<polyline points="829.5,84.0 829.5,111.9" fill="none" stroke="#777" stroke-width="1.0" stroke-linecap="butt" stroke-linejoin="miter" />
<rect x="796.8" y="86" width="26" height="22" fill="none" stroke="#777" stroke-width="0.9"/>
<rect x="800" y="89" width="19.5" height="16" rx="2" fill="none" stroke="#777" stroke-width="0.9"/>
<circle cx="809.3" cy="96.5" r="1.8" fill="none" stroke="#555" stroke-width="0.9"/>
<polyline points="809.3,89.0 809.3,94.5" fill="none" stroke="#777" stroke-width="1.0" stroke-linecap="butt" stroke-linejoin="miter" />
<rect x="833.3" y="84" width="34.7" height="35.6" fill="none" stroke="#777" stroke-width="0.9"/>
<g transform="translate(811,200.8) rotate(45)"><rect x="-12.5" y="-12.5" width="25" height="25" fill="#6a6a6a" stroke="#555" stroke-width="1"/><circle cx="-6" cy="-6" r="4.6" fill="#9a9a9a" stroke="#444" stroke-width="0.8"/><circle cx="6" cy="6" r="4.6" fill="#9a9a9a" stroke="#444" stroke-width="0.8"/><circle cx="6" cy="-6" r="3.6" fill="#9a9a9a" stroke="#444" stroke-width="0.8"/><circle cx="-6" cy="6" r="3.6" fill="#9a9a9a" stroke="#444" stroke-width="0.8"/></g>
<rect x="829.3" y="176.3" width="23.4" height="22.4" fill="none" stroke="#999" stroke-width="0.9" stroke-dasharray="3,2"/>
<polyline points="820.0,199.7 855.8,199.7 923.0,267.0 872.0,317.0 895.5,341.4 965.8,275.1" fill="none" stroke="#777" stroke-width="1.0" stroke-linecap="butt" stroke-linejoin="miter" />
<polyline points="811.0,213.0 811.0,296.5 785.5,296.5" fill="none" stroke="#777" stroke-width="1.0" stroke-linecap="butt" stroke-linejoin="miter" />
<polyline points="785.5,255.8 811.0,255.8" fill="none" stroke="#777" stroke-width="1.0" stroke-linecap="butt" stroke-linejoin="miter" />
<rect x="785.5" y="300.6" width="30.5" height="34.7" fill="none" stroke="#777" stroke-width="0.9"/>
<g transform="translate(901.2,226.2) rotate(45)"><rect x="-23.5" y="-8.7" width="47" height="17.4" fill="none" stroke="#777" stroke-width="0.9"/><rect x="-21" y="-7" width="13.5" height="14" rx="4" fill="none" stroke="#777" stroke-width="0.9"/><rect x="-6" y="-7" width="13.5" height="14" rx="4" fill="none" stroke="#777" stroke-width="0.9"/><circle cx="-14.2" cy="0" r="1.5" fill="none" stroke="#666" stroke-width="0.8"/><circle cx="0.8" cy="0" r="1.5" fill="none" stroke="#666" stroke-width="0.8"/><rect x="9" y="-6.5" width="12.5" height="13" fill="none" stroke="#777" stroke-width="0.8"/><g stroke="#555" stroke-width="0.7"><line x1="10.2" y1="-5.5" x2="10.2" y2="5.5"/><line x1="11.7" y1="-5.5" x2="11.7" y2="5.5"/><line x1="13.2" y1="-5.5" x2="13.2" y2="5.5"/><line x1="14.7" y1="-5.5" x2="14.7" y2="5.5"/><line x1="16.2" y1="-5.5" x2="16.2" y2="5.5"/><line x1="17.7" y1="-5.5" x2="17.7" y2="5.5"/><line x1="19.2" y1="-5.5" x2="19.2" y2="5.5"/><line x1="20.7" y1="-5.5" x2="20.7" y2="5.5"/></g></g>
<path d="M749.5,658.5 L781,658.5 Q796,658.5 796,673 L796,682 Q796,707 771,707 L749.5,707" fill="none" stroke="#777" stroke-width="0.9"/>
<path d="M749.5,661 L779,661 Q793,661 793,674 L793,682 Q793,704 771,704 L749.5,704" fill="none" stroke="#777" stroke-width="0.9"/>
<polyline points="749.5,712.4 775.0,712.4 775.0,707.0" fill="none" stroke="#777" stroke-width="1.0" stroke-linecap="butt" stroke-linejoin="miter" />
<circle cx="765" cy="681.8" r="3" fill="none" stroke="#777" stroke-width="0.9"/>
<polyline points="751.0,681.8 762.0,681.8" fill="none" stroke="#777" stroke-width="1.0" stroke-linecap="butt" stroke-linejoin="miter" />
<polyline points="796.0,671.0 836.7,671.0" fill="none" stroke="#777" stroke-width="1.0" stroke-linecap="butt" stroke-linejoin="miter" />
<path d="M807.6,673 L823.5,673 L823.5,684 Q823.5,693.4 815.5,693.4 Q807.6,693.4 807.6,684 Z" fill="none" stroke="#777" stroke-width="0.9"/>
<rect x="752.3" y="722.3" width="19.8" height="27" fill="none" stroke="#777" stroke-width="0.9"/>
<rect x="759" y="726" width="11.5" height="20" fill="none" stroke="#777" stroke-width="0.9"/>
<polyline points="754.0,736.0 762.0,736.0" fill="none" stroke="#777" stroke-width="1.0" stroke-linecap="butt" stroke-linejoin="miter" />
<polyline points="764.3,712.4 764.3,722.3" fill="none" stroke="#777" stroke-width="1.0" stroke-linecap="butt" stroke-linejoin="miter" />
<polyline points="764.3,749.3 764.3,773.7" fill="none" stroke="#777" stroke-width="1.0" stroke-linecap="butt" stroke-linejoin="miter" />
<path d="M749.5,790.6 Q760,762 792.8,762 L836.7,762" fill="none" stroke="#777" stroke-width="0.9"/>
<g transform="translate(796,800) rotate(-29)"><rect x="-43" y="-20.5" width="86" height="41" rx="20.5" fill="none" stroke="#555" stroke-width="1"/><rect x="-40" y="-17.5" width="80" height="35" rx="17.5" fill="none" stroke="#555" stroke-width="1"/></g>
<circle cx="800" cy="809.6" r="1.9" fill="none" stroke="#555" stroke-width="0.9"/>
</svg>
</body></html>
